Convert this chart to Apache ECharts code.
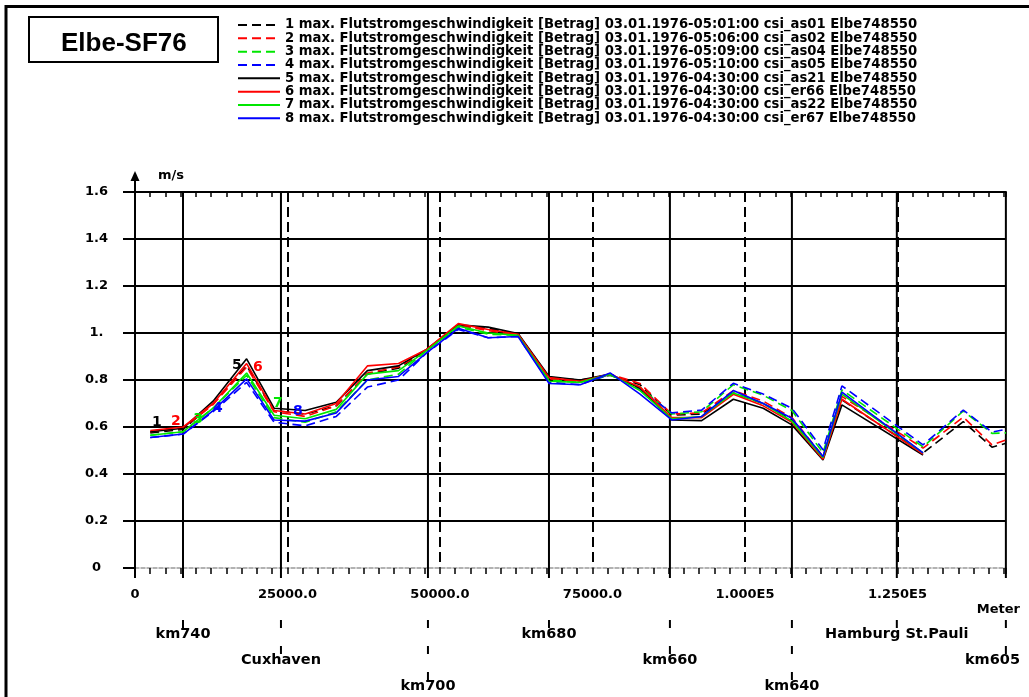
<!DOCTYPE html>
<html><head><meta charset="utf-8">
<script src="https://cdn.jsdelivr.net/npm/echarts@6/dist/echarts.min.js"></script>
<style>html,body{margin:0;padding:0;background:#fff;}#c{width:1029px;height:697px;}</style>
</head><body><div id="c"></div>
<script>
// ---- data ----
const xMeters = [2500, 7900, 12800, 18300, 22800, 27900, 33000, 38100, 43200, 47800, 53000, 57900, 62800, 67900, 73000, 77900, 82800, 88000, 92900, 98100, 103000, 107700, 112800, 115900, 129200, 135800, 140500, 142800];
const s1 = [0.575, 0.59, 0.70, 0.86, 0.67, 0.655, 0.69, 0.825, 0.85, 0.925, 1.03, 1.02, 0.995, 0.81, 0.80, 0.82, 0.78, 0.65, 0.655, 0.745, 0.70, 0.63, 0.47, 0.715, 0.489, 0.623, 0.514, 0.531];
const s2 = [0.58, 0.595, 0.695, 0.855, 0.665, 0.645, 0.69, 0.83, 0.855, 0.925, 1.035, 1.01, 0.99, 0.805, 0.795, 0.825, 0.785, 0.655, 0.66, 0.755, 0.71, 0.64, 0.475, 0.73, 0.51, 0.642, 0.524, 0.545];
const s3 = [0.565, 0.58, 0.68, 0.82, 0.64, 0.62, 0.665, 0.80, 0.825, 0.925, 1.025, 0.995, 0.99, 0.80, 0.79, 0.82, 0.77, 0.655, 0.665, 0.78, 0.735, 0.67, 0.49, 0.758, 0.515, 0.668, 0.573, 0.575];
const s4 = [0.555, 0.57, 0.665, 0.79, 0.62, 0.605, 0.645, 0.77, 0.80, 0.915, 1.015, 0.98, 0.985, 0.79, 0.78, 0.825, 0.76, 0.66, 0.672, 0.786, 0.74, 0.68, 0.503, 0.775, 0.524, 0.672, 0.578, 0.59];
const s5 = [0.58, 0.595, 0.71, 0.89, 0.68, 0.67, 0.705, 0.84, 0.86, 0.93, 1.035, 1.025, 0.998, 0.815, 0.80, 0.825, 0.765, 0.63, 0.627, 0.718, 0.68, 0.609, 0.46, 0.694, 0.481, null, null, null];
const s6 = [0.585, 0.60, 0.70, 0.87, 0.67, 0.655, 0.70, 0.86, 0.87, 0.93, 1.04, 1.015, 0.995, 0.81, 0.795, 0.825, 0.77, 0.64, 0.64, 0.739, 0.69, 0.62, 0.463, 0.718, 0.485, null, null, null];
const s7 = [0.565, 0.58, 0.68, 0.83, 0.65, 0.635, 0.675, 0.825, 0.84, 0.925, 1.03, 1.0, 0.99, 0.795, 0.79, 0.825, 0.755, 0.635, 0.645, 0.745, 0.70, 0.625, 0.47, 0.74, 0.49, null, null, null];
const s8 = [0.555, 0.57, 0.67, 0.805, 0.63, 0.625, 0.66, 0.80, 0.815, 0.915, 1.02, 0.98, 0.985, 0.785, 0.78, 0.83, 0.74, 0.63, 0.645, 0.755, 0.70, 0.637, 0.474, 0.748, 0.49, null, null, null];
const seriesNames = [
  '1 max. Flutstromgeschwindigkeit [Betrag] 03.01.1976-05:01:00 csi_as01 Elbe748550',
  '2 max. Flutstromgeschwindigkeit [Betrag] 03.01.1976-05:06:00 csi_as02 Elbe748550',
  '3 max. Flutstromgeschwindigkeit [Betrag] 03.01.1976-05:09:00 csi_as04 Elbe748550',
  '4 max. Flutstromgeschwindigkeit [Betrag] 03.01.1976-05:10:00 csi_as05 Elbe748550',
  '5 max. Flutstromgeschwindigkeit [Betrag] 03.01.1976-04:30:00 csi_as21 Elbe748550',
  '6 max. Flutstromgeschwindigkeit [Betrag] 03.01.1976-04:30:00 csi_er66 Elbe748550',
  '7 max. Flutstromgeschwindigkeit [Betrag] 03.01.1976-04:30:00 csi_as22 Elbe748550',
  '8 max. Flutstromgeschwindigkeit [Betrag] 03.01.1976-04:30:00 csi_er67 Elbe748550'
];
const seriesTags = ['1','2','3','4','5','6','7','8'];
const tagX = [3600, 6720, 10330, 13600, 16720, 20160, 23440, 26720];
const tagY = [0.618, 0.622, 0.634, 0.681, 0.864, 0.855, 0.702, 0.668];
const markerNames = ['km740', 'Cuxhaven', 'km700', 'km680', 'km660', 'km640', 'Hamburg St.Pauli', 'km605'];
const markerX = [7870, 23930, 48030, 67870, 87700, 107700, 124900, 142780];
const markerRow = [1, 2, 3, 1, 2, 3, 1, 2];
const xTickLabels = ['0', '25000.0', '50000.0', '75000.0', '1.000E5', '1.250E5'];
const yTickLabels = ['0', '0.2', '0.4', '0.6', '0.8', '1.', '1.2', '1.4', '1.6'];
const X_MAX = 142800;

// ---- styles ----
const colors = ['#000000', '#ff0000', '#00e600', '#0000ff', '#000000', '#ff0000', '#00e600', '#0000ff'];
const FONT = '"DejaVu Sans", sans-serif';
const allSeries = [s1, s2, s3, s4, s5, s6, s7, s8];

const chart = echarts.init(document.getElementById('c'), null, {renderer: 'canvas'});
const measureCtx = document.createElement('canvas').getContext('2d');

const lineSeries = allSeries.map((vals, i) => ({
  name: seriesNames[i],
  type: 'line',
  xAxisIndex: 0, yAxisIndex: 0,
  symbol: 'none', showSymbol: false,
  z: 3,
  lineStyle: {color: colors[i], width: 1.6, type: i < 4 ? [9, 5] : 'solid'},
  itemStyle: {color: colors[i]},
  data: xMeters.map((x, k) => [x, vals[k]]),
  markPoint: {
    symbol: 'circle', symbolSize: 0, silent: true,
    label: {show: true, position: 'inside', formatter: seriesTags[i], color: colors[i],
            fontFamily: FONT, fontWeight: 'bold', fontSize: 14},
    data: [{coord: [tagX[i], tagY[i]]}]
  }
}));

const vLineSeries = {
  type: 'custom', xAxisIndex: 0, yAxisIndex: 0, clip: false, silent: true, z: 1,
  data: [0].concat(markerX).map(x => [x, 0]),
  renderItem(params, api) {
    const x = api.value(0);
    const b = api.coord([x, 0]);
    const t = api.coord([x, 1.6]);
    const children = [];
    let yTop = t[1];
    if (x === 0) {
      yTop = t[1] - 12;
      children.push({type: 'polygon', shape: {points: [[b[0], yTop - 9], [b[0] - 4.5, yTop + 1], [b[0] + 4.5, yTop + 1]]},
                     style: {fill: '#000'}});
    }
    children.push({type: 'line', shape: {x1: b[0], y1: b[1] + 10, x2: b[0], y2: yTop},
                   style: {stroke: '#000', lineWidth: 2}});
    return {type: 'group', children};
  }
};

const markerSeries = {
  type: 'custom', xAxisIndex: 3, yAxisIndex: 1, clip: false, silent: true,
  data: markerX.map((x, i) => [x, markerRow[i]]),
  renderItem(params, api) {
    const x = api.value(0), row = api.value(1);
    const name = markerNames[params.dataIndex];
    const children = [];
    const px = api.coord([x, 0])[0];
    for (let k = 0; k < row; k++) {
      const y0 = api.coord([x, k])[1];
      children.push({type: 'line', shape: {x1: px, y1: y0 + 12, x2: px, y2: y0 + 20}, style: {stroke: '#000', lineWidth: 2}});
    }
    const p = api.coord([x, row]);
    const font = 'bold 14.5px ' + FONT;
    measureCtx.font = font;
    const w = measureCtx.measureText(name).width;
    const cx = Math.min(p[0], api.getWidth() - 9 - w / 2);
    children.push({type: 'text', style: {text: name, x: cx, y: p[1], align: 'center', verticalAlign: 'middle', font: font, fill: '#000'}});
    return {type: 'group', children};
  }
};

const option = {
  animation: false,
  backgroundColor: '#fff',
  title: {
    text: 'Elbe-SF76', left: 29, top: 17,
    borderColor: '#000', borderWidth: 2,
    padding: [13, 32, 5, 32],
    textStyle: {fontFamily: '"Liberation Sans", Arial, sans-serif', fontWeight: 'bold', fontSize: 26, lineHeight: 27, color: '#000'}
  },
  legend: {
    data: seriesNames, orient: 'vertical', left: 237, top: 18.5, padding: 0,
    itemWidth: 42, itemHeight: 12, itemGap: 0.33, selectedMode: false,
    itemStyle: {opacity: 0},
    textStyle: {fontFamily: FONT, fontWeight: 'bold', fontSize: 13.2, lineHeight: 12, color: '#000'}
  },
  graphic: [{
    type: 'rect', silent: true, z: 100,
    shape: {x: 6, y: 6.5, width: 1200, height: 900},
    style: {fill: 'none', stroke: '#000', lineWidth: 3}
  }],
  grid: [
    {left: 135, right: 23, top: 192, height: 376, outerBoundsMode: 'none', containLabel: false},
    {left: 135, right: 23, top: 608, height: 78, outerBoundsMode: 'none', containLabel: false}
  ],
  xAxis: [
    { // bottom axis with ticks and labels
      type: 'value', gridIndex: 0, position: 'bottom', min: 0, max: X_MAX, interval: 2500,
      name: 'Meter', nameLocation: 'end', nameGap: 14,
      nameTextStyle: {fontFamily: FONT, fontWeight: 'bold', fontSize: 13, color: '#000', align: 'right', verticalAlign: 'top', padding: [35, 0, 0, 0]},
      axisLine: {show: true, onZero: false, lineStyle: {color: '#999', width: 1.5, type: [4, 2]}},
      axisTick: {show: true, length: 6, lineStyle: {color: '#000', width: 1.5}},
      axisLabel: {show: true, margin: 20, fontFamily: FONT, fontWeight: 'bold', fontSize: 13, color: '#000',
                  formatter: v => (v % 25000 === 0 ? xTickLabels[v / 25000] : '')},
      splitLine: {show: false}
    },
    { // top frame line with ticks
      type: 'value', gridIndex: 0, position: 'top', min: 0, max: X_MAX, interval: 2500,
      axisLine: {show: true, onZero: false, lineStyle: {color: '#000', width: 2}},
      axisTick: {show: true, inside: true, length: 5, lineStyle: {color: '#000', width: 1.5}},
      axisLabel: {show: false}, splitLine: {show: false}
    },
    { // dashed major gridlines
      type: 'value', gridIndex: 0, position: 'bottom', min: 0, max: X_MAX, interval: 25000,
      axisLine: {show: false}, axisTick: {show: false}, axisLabel: {show: false},
      splitLine: {show: true, showMinLine: false, showMaxLine: false, lineStyle: {color: '#000', width: 2, type: [10, 5]}}
    },
    { // marker row axis
      type: 'value', gridIndex: 1, min: 0, max: X_MAX, show: false
    }
  ],
  yAxis: [
    {
      type: 'value', gridIndex: 0, min: 0, max: 1.6, interval: 0.2,
      name: 'm/s', nameLocation: 'end', nameGap: 16,
      nameTextStyle: {fontFamily: FONT, fontWeight: 'bold', fontSize: 13, color: '#000', align: 'left', verticalAlign: 'middle', padding: [0, 0, 0, 23]},
      axisLine: {show: false},
      axisTick: {show: true, length: 12, lineStyle: {color: '#000', width: 2}},
      axisLabel: {margin: 38.5, align: 'center', fontFamily: FONT, fontWeight: 'bold', fontSize: 13, color: '#000',
                  formatter: v => yTickLabels[Math.round(v / 0.2)]},
      splitLine: {show: true, showMinLine: false, lineStyle: {color: '#000', width: 2}}
    },
    {type: 'value', gridIndex: 1, min: 0, max: 3, inverse: true, show: false}
  ],
  series: [vLineSeries].concat(lineSeries).concat([markerSeries])
};
chart.setOption(option);
</script></body></html>
